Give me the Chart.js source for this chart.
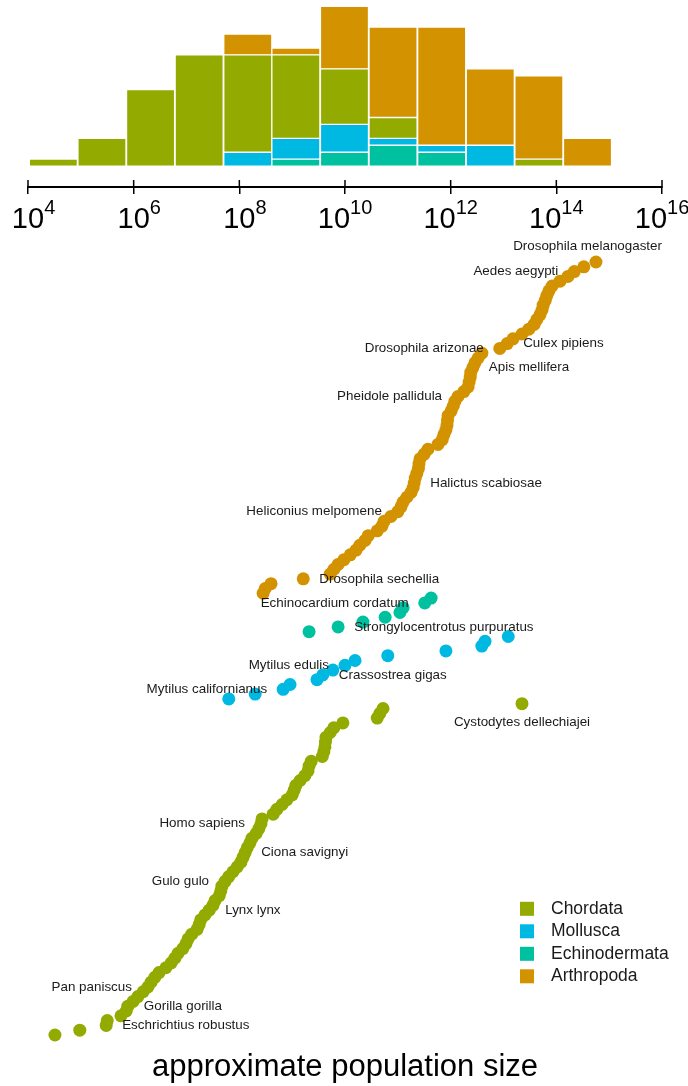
<!DOCTYPE html>
<html lang="en">
<head>
<meta charset="UTF-8">
<title>Approximate population size by phylum</title>
<script src="https://cdn.jsdelivr.net/npm/chart.js"></script>
<style>
  body { margin: 0; background: #fff; }
  #wrap { position: relative; width: 688px; height: 1086px; }
  #hist { position: absolute; left: 0; top: 0; }
  #dots { position: absolute; left: 0; top: 240px; }
</style>
</head>
<body>
<div id="wrap">
  <canvas id="hist" width="688" height="240"></canvas>
  <canvas id="dots" width="688" height="846"></canvas>
</div>
<script>
const phyla = ['Chordata', 'Mollusca', 'Echinodermata', 'Arthropoda'];
const colores = ['#93AA00', '#00B9E3', '#00C19F', '#D39200'];

// log10(population size), sorted inside each phylum
const chordata = [4.51, 4.98, 5.48, 5.50, 5.76, 5.86, 5.89, 5.99, 6.08, 6.18,
  6.27, 6.33, 6.40, 6.48, 6.61, 6.71, 6.78, 6.84, 6.93, 6.99,
  7.03, 7.10, 7.20, 7.24, 7.27, 7.35, 7.43, 7.50, 7.54, 7.62,
  7.65, 7.67, 7.73, 7.80, 7.88, 7.96, 8.03, 8.07, 8.11, 8.15,
  8.20, 8.24, 8.32, 8.37, 8.41, 8.43, 8.64, 8.71, 8.81, 8.90,
  9.00, 9.04, 9.07, 9.15, 9.24, 9.30, 9.32, 9.36, 9.57, 9.60,
  9.62, 9.63, 9.64, 9.72, 9.79, 9.96, 10.61, 10.66, 10.72, 13.35];
const mollusca = [7.80, 8.30, 8.83, 8.96, 9.47, 9.58, 9.77, 10.00, 10.19, 10.81,
  11.91, 12.59, 12.65, 13.09];
const echinodermata = [9.32, 9.87, 10.34, 10.76, 11.04, 11.10, 11.51, 11.63];
const arthropoda = [8.45, 8.49, 8.60, 9.21, 9.72, 9.79, 9.87, 9.98, 10.10, 10.21,
  10.28, 10.38, 10.44, 10.61, 10.70, 10.74, 10.87, 11.00, 11.06, 11.10,
  11.17, 11.25, 11.29, 11.31, 11.33, 11.36, 11.39, 11.40, 11.42, 11.50,
  11.57, 11.76, 11.84, 11.87, 11.91, 11.93, 11.94, 11.95, 12.01, 12.05,
  12.08, 12.14, 12.25, 12.33, 12.35, 12.37, 12.38, 12.42, 12.46, 12.52,
  12.59, 12.93, 13.07, 13.18, 13.35, 13.48, 13.58, 13.63, 13.69, 13.73,
  13.75, 13.79, 13.82, 13.86, 13.92, 14.07, 14.22, 14.34, 14.52, 14.75];

// histogram: bin centres (log10) and counts per phylum
const binCenters = [4.48, 5.40, 6.32, 7.24, 8.16, 9.07, 9.99, 10.91, 11.83, 12.75, 13.67, 14.59];
const histChordata = [1, 4, 11, 16, 14, 12, 8, 3, 0, 0, 1, 0];
const histMollusca = [0, 0, 0, 0, 2, 3, 4, 1, 1, 3, 0, 0];
const histEchino = [0, 0, 0, 0, 0, 1, 2, 3, 2, 0, 0, 0];
const histArthro = [0, 0, 0, 0, 3, 1, 9, 13, 17, 11, 12, 4];

const tickExponents = [4, 6, 8, 10, 12, 14, 16];

// labelled species: phylum, rank inside the phylum, side of the point
const etiquetas = [
  { name: 'Drosophila melanogaster', phylum: 'Arthropoda', rank: 69, side: 'above' },
  { name: 'Aedes aegypti', phylum: 'Arthropoda', rank: 67, side: 'left' },
  { name: 'Culex pipiens', phylum: 'Arthropoda', rank: 52, side: 'right' },
  { name: 'Drosophila arizonae', phylum: 'Arthropoda', rank: 51, side: 'left' },
  { name: 'Apis mellifera', phylum: 'Arthropoda', rank: 47, side: 'right' },
  { name: 'Pheidole pallidula', phylum: 'Arthropoda', rank: 41, side: 'left' },
  { name: 'Halictus scabiosae', phylum: 'Arthropoda', rank: 23, side: 'right' },
  { name: 'Heliconius melpomene', phylum: 'Arthropoda', rank: 17, side: 'left' },
  { name: 'Drosophila sechellia', phylum: 'Arthropoda', rank: 3, side: 'right' },
  { name: 'Echinocardium cordatum', phylum: 'Echinodermata', rank: 6, side: 'left' },
  { name: 'Strongylocentrotus purpuratus', phylum: 'Echinodermata', rank: 1, side: 'right' },
  { name: 'Mytilus edulis', phylum: 'Mollusca', rank: 7, side: 'left' },
  { name: 'Crassostrea gigas', phylum: 'Mollusca', rank: 5, side: 'right' },
  { name: 'Mytilus californianus', phylum: 'Mollusca', rank: 2, side: 'left' },
  { name: 'Cystodytes dellechiajei', phylum: 'Chordata', rank: 69, side: 'below' },
  { name: 'Homo sapiens', phylum: 'Chordata', rank: 44, side: 'left' },
  { name: 'Ciona savignyi', phylum: 'Chordata', rank: 38, side: 'right' },
  { name: 'Gulo gulo', phylum: 'Chordata', rank: 32, side: 'left' },
  { name: 'Lynx lynx', phylum: 'Chordata', rank: 26, side: 'right' },
  { name: 'Pan paniscus', phylum: 'Chordata', rank: 10, side: 'left' },
  { name: 'Gorilla gorilla', phylum: 'Chordata', rank: 6, side: 'right' },
  { name: 'Eschrichtius robustus', phylum: 'Chordata', rank: 2, side: 'right' }
];

const FUENTE = '"Liberation Sans", Arial, Helvetica, sans-serif';
Chart.defaults.font.family = FUENTE;
Chart.defaults.color = '#000';

// ---------- histogram ----------
function barras(label, counts, color) {
  return {
    label: label,
    data: binCenters.map((c, i) => ({ x: c, y: counts[i] || null })),
    backgroundColor: color,
    borderColor: '#fff',
    borderWidth: 1,
    borderSkipped: false,
    barPercentage: 1,
    categoryPercentage: 1,
    stack: 'h'
  };
}

// tick labels 10^n with a raised exponent, plus the upper half of each tick
const ejeLog = {
  id: 'ejeLog',
  afterDraw(chart) {
    const ctx = chart.ctx;
    const sx = chart.scales.x;
    const y0 = chart.chartArea.bottom;
    ctx.save();
    ctx.strokeStyle = '#000';
    ctx.lineWidth = 1.5;
    ctx.fillStyle = '#000';
    ctx.textBaseline = 'alphabetic';
    ctx.textAlign = 'left';
    tickExponents.forEach(e => {
      const x = sx.getPixelForValue(e);
      ctx.beginPath();
      ctx.moveTo(x, y0 - 7);
      ctx.lineTo(x, y0 + 1);
      ctx.stroke();
      const sup = String(e);
      ctx.font = '29px ' + FUENTE;
      const wb = ctx.measureText('10').width;
      ctx.font = '20px ' + FUENTE;
      const we = ctx.measureText(sup).width;
      // one-digit exponents: the base sits centred on the tick
      const left = sup.length > 1 ? x - (wb + we) / 2 : x - wb / 2;
      ctx.font = '29px ' + FUENTE;
      ctx.fillText('10', left, y0 + 41);
      ctx.font = '20px ' + FUENTE;
      ctx.fillText(sup, left + wb, y0 + 27);
    });
    ctx.restore();
  }
};

new Chart(document.getElementById('hist'), {
  type: 'bar',
  data: {
    datasets: [
      barras('Echinodermata', histEchino, colores[2]),
      barras('Mollusca', histMollusca, colores[1]),
      barras('Chordata', histChordata, colores[0]),
      barras('Arthropoda', histArthro, colores[3])
    ]
  },
  options: {
    responsive: false,
    animation: false,
    layout: { autoPadding: false, padding: { left: 28, right: 26, top: 0, bottom: 0 } },
    plugins: { legend: { display: false }, tooltip: { enabled: false } },
    scales: {
      x: {
        type: 'linear',
        min: 4,
        max: 16,
        offset: false,
        stacked: true,
        grid: { display: true, offset: false, drawOnChartArea: false, drawTicks: true, tickLength: 7, color: '#000', lineWidth: 1.5 },
        border: { display: true, color: '#000', width: 2 },
        ticks: { display: false, stepSize: 2 },
        afterFit(scale) { scale.height = 53; }
      },
      y: { stacked: true, display: false, min: -3, max: 23.9 }
    }
  },
  plugins: [ejeLog]
});

// ---------- ranked dot plot ----------
const series = [chordata, mollusca, echinodermata, arthropoda];
let inicio = 0;
const puntos = series.map((vals, s) => {
  const ds = {
    label: phyla[s],
    data: vals.map((v, k) => ({ x: v, y: inicio + k })),
    pointBackgroundColor: colores[s],
    backgroundColor: colores[s],
    pointBorderWidth: 0,
    pointRadius: 6.5,
    pointHoverRadius: 6.5,
    showLine: false,
    clip: false
  };
  inicio += vals.length;
  return ds;
});

const rotulos = {
  id: 'rotulos',
  afterDatasetsDraw(chart) {
    const ctx = chart.ctx;
    const area = chart.chartArea;
    ctx.save();
    ctx.font = '13.4px ' + FUENTE;
    ctx.fillStyle = '#1a1a1a';
    ctx.textBaseline = 'middle';
    ctx.textAlign = 'left';
    etiquetas.forEach(e => {
      const pt = chart.getDatasetMeta(phyla.indexOf(e.phylum)).data[e.rank];
      const w = ctx.measureText(e.name).width;
      let x, y = pt.y;
      if (e.side === 'left') x = pt.x - 16 - w;
      else if (e.side === 'right') x = pt.x + 16;
      else {
        x = pt.x - w / 2;
        y = e.side === 'above' ? pt.y - 16 : pt.y + 19;
      }
      x = Math.min(Math.max(x, area.left), area.right - w);
      ctx.fillText(e.name, x, y);
    });
    ctx.restore();
  }
};

const leyenda = {
  id: 'leyenda',
  afterDraw(chart) {
    const ctx = chart.ctx;
    const a = chart.chartArea;
    ctx.save();
    ctx.font = '17.5px ' + FUENTE;
    ctx.textBaseline = 'middle';
    ctx.textAlign = 'left';
    phyla.forEach((p, i) => {
      const y = a.bottom - 127 + i * 22.5;
      ctx.fillStyle = colores[i];
      ctx.fillRect(a.right - 142, y - 7, 14, 14);
      ctx.fillStyle = '#1a1a1a';
      ctx.fillText(p, a.right - 111, y);
    });
    ctx.restore();
  }
};

new Chart(document.getElementById('dots'), {
  type: 'scatter',
  data: { datasets: puntos },
  options: {
    responsive: false,
    animation: false,
    layout: { autoPadding: false, padding: { left: 28, right: 26, top: 0, bottom: 0 } },
    plugins: {
      legend: { display: false },
      tooltip: { enabled: false },
      title: {
        display: true,
        position: 'bottom',
        text: 'approximate population size',
        font: { size: 31, weight: 'normal' },
        color: '#000',
        padding: { top: 13, bottom: 0 }
      }
    },
    scales: {
      x: { type: 'linear', min: 4, max: 16, display: false },
      y: { type: 'linear', min: -0.17, max: 165.58, display: false }
    }
  },
  plugins: [rotulos, leyenda]
});
</script>
</body>
</html>
